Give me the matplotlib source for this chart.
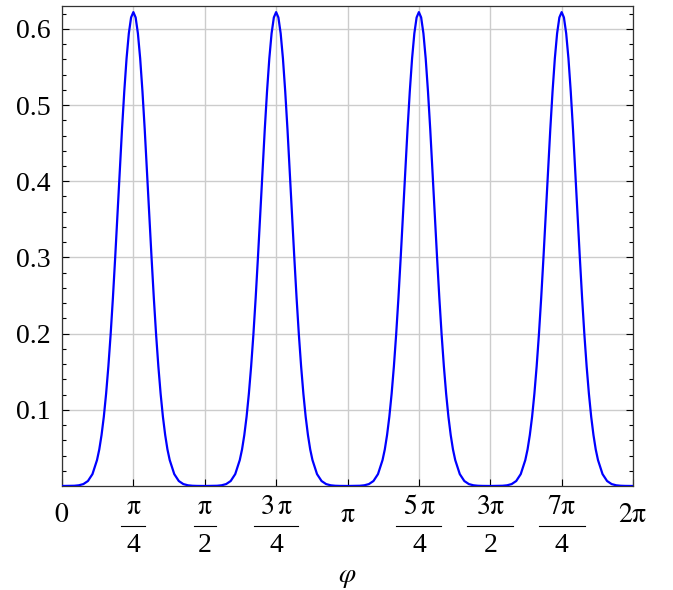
import matplotlib.pyplot as plt
import matplotlib.transforms as mtransforms
import numpy as np

plt.rcParams['font.family'] = 'Liberation Serif'
plt.rcParams['mathtext.fontset'] = 'stix'

# one peak profile: offset from peak centre (rad) -> value
offset = [0.0, 0.025, 0.05, 0.075, 0.1, 0.125, 0.15, 0.175, 0.2, 0.225, 0.25,
          0.275, 0.3, 0.325, 0.35, 0.375, 0.4, 0.45, 0.5, 0.55, 0.6, 0.65,
          0.7, 0.785]
value = [0.622, 0.615, 0.594, 0.561, 0.518, 0.468, 0.413, 0.356, 0.300, 0.247,
         0.199, 0.157, 0.121, 0.091, 0.067, 0.048, 0.034, 0.0156, 0.0065,
         0.0025, 0.0009, 0.0003, 0.0001, 0.0]
peak_centres = [np.pi / 4, 3 * np.pi / 4, 5 * np.pi / 4, 7 * np.pi / 4]

tick_pos = [0, np.pi / 4, np.pi / 2, 3 * np.pi / 4, np.pi, 5 * np.pi / 4,
            3 * np.pi / 2, 7 * np.pi / 4, 2 * np.pi]
# (numerator, denominator); denominator None -> plain label
P = r'\mathrm{\pi}'
tick_num = [r'$0$', '$' + P + '$', '$' + P + '$', r'$3\,' + P + '$', '$' + P + '$',
            r'$5\,' + P + '$', '$3' + P + '$', '$7' + P + '$', '$2' + P + '$']
tick_den = [None, '4', '2', '4', None, '4', '2', '4', None]
bar_px = [0, 24, 22, 44, 0, 45, 46, 46, 0]

# build the curve from the profile, mirrored around every peak
off = np.array(offset)
val = np.array(value)
xs, ys = [], []
for c in peak_centres:
    xs += list(c - off[::-1]) + list(c + off[1:])
    ys += list(val[::-1]) + list(val[1:])

W, H = 673, 590
fig = plt.figure(figsize=(W / 100, H / 100), dpi=100)
ax = fig.add_axes([0.0921, 0.1763, 0.8485, 0.8135])

ax.plot(xs, ys, color='#0000ff', lw=1.6, zorder=3)

ax.set_xlim(0, 2 * np.pi)
ax.set_ylim(0, 0.630)
ax.set_xticks(tick_pos)
ax.set_xticklabels([''] * len(tick_pos))
ax.set_yticks([0.1, 0.2, 0.3, 0.4, 0.5, 0.6])
ax.set_yticklabels(['0.1', '0.2', '0.3', '0.4', '0.5', '0.6'])
ax.set_yticks(np.arange(0.02, 0.63, 0.02), minor=True)

ax.grid(True, color='#cccccc', lw=1.0)
ax.tick_params(axis='y', which='both', direction='in', left=True, right=True,
               labelsize=20, pad=8)
ax.tick_params(axis='y', which='major', length=5, width=0.8)
ax.tick_params(axis='y', which='minor', length=3, width=0.8)
ax.tick_params(axis='x', direction='in', length=5, width=0.8)
for s in ax.spines.values():
    s.set_color('#333333')
    s.set_linewidth(0.9)

# x tick labels drawn by hand as stacked fractions
trans = mtransforms.blended_transform_factory(ax.transData, fig.transFigure)
px_per_rad = 0.8485 * W / (2 * np.pi)
def fy(p):
    return (H - p) / H
for x, num, den, bw in zip(tick_pos, tick_num, tick_den, bar_px):
    if den is None:
        ax.text(x, fy(515), num, transform=trans, ha='center', va='center',
                fontsize=20, clip_on=False)
    else:
        ax.text(x, fy(507), num, transform=trans, ha='center', va='center',
                fontsize=20, clip_on=False)
        ax.text(x, fy(546), den, transform=trans, ha='center', va='center',
                fontsize=20, clip_on=False)
        hw = bw / 2 / px_per_rad
        ax.plot([x - hw, x + hw], [fy(526), fy(526)], transform=trans,
                color='black', lw=0.8, clip_on=False)

fig.text(ax.transData.transform((np.pi, 0))[0] / W, fy(577), r'$\varphi$',
         ha='center', va='center', fontsize=20)

plt.savefig('out.png', dpi=100)
